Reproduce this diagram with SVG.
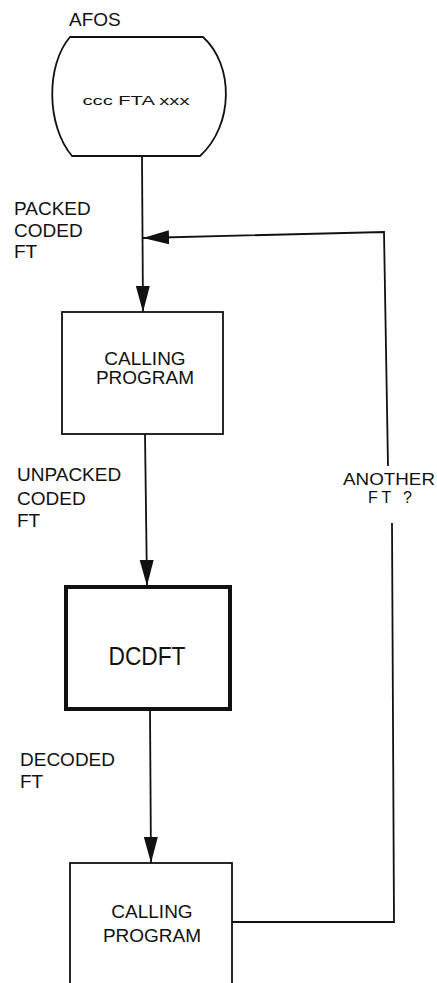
<svg xmlns="http://www.w3.org/2000/svg" width="437" height="983" viewBox="0 0 437 983">
<style>
.t{font-family:"Liberation Sans",Arial,sans-serif;fill:#111;font-size:19px}
.c{text-anchor:middle}
.box{fill:#fff;stroke:#111;stroke-width:1.8}
.thick{fill:#fff;stroke:#111;stroke-width:4}
.ln{fill:none;stroke:#111;stroke-width:1.8}
</style>
<defs>
<marker id="ah" markerUnits="userSpaceOnUse" markerWidth="28" markerHeight="16" refX="26" refY="7" orient="auto">
<path d="M0,0 L26,7 L0,14 Z" fill="#111"/>
</marker>
</defs>
<rect width="437" height="983" fill="#fff"/>
<g id="connectors">
<line class="ln" x1="142" y1="156" x2="143" y2="312" marker-end="url(#ah)"/>
<line class="ln" x1="145" y1="434" x2="147" y2="586" marker-end="url(#ah)"/>
<line class="ln" x1="150" y1="710" x2="151" y2="863" marker-end="url(#ah)"/>
<polyline class="ln" points="232,922 394,922 392,523"/>
<polyline class="ln" points="388,466 384,232 143,238" marker-end="url(#ah)"/>
<text class="t" x="14" y="215">PACKED</text>
<text class="t" x="14" y="237">CODED</text>
<text class="t" x="14" y="258">FT</text>
<text class="t" x="17" y="481">UNPACKED</text>
<text class="t" x="17" y="505">CODED</text>
<text class="t" x="17" y="527">FT</text>
<text class="t" x="20" y="766">DECODED</text>
<text class="t" x="20" y="788">FT</text>
<text class="t c" x="389" y="485" style="font-size:16px" textLength="92" lengthAdjust="spacingAndGlyphs">ANOTHER</text>
<text class="t c" x="390" y="503" style="font-size:16px" textLength="44" lengthAdjust="spacing">FT ?</text>
</g>
<g id="afos">
<text class="t" x="69" y="26">AFOS</text>
<path class="box" d="M70,37 L203,37 C234,65 234,125 200,156 L72,156 C46,125 46,65 70,37 Z"/>
<text class="t c" x="136" y="105" style="font-size:12px" textLength="107" lengthAdjust="spacingAndGlyphs">ccc FTA xxx</text>
</g>
<g id="calling1">
<rect class="box" x="62" y="312" width="161" height="122"/>
<text class="t c" x="145" y="365">CALLING</text>
<text class="t c" x="145" y="384">PROGRAM</text>
</g>
<g id="dcdft">
<rect class="thick" x="66" y="587" width="164" height="122"/>
<text class="t c" x="147" y="665" style="font-size:26px" textLength="77" lengthAdjust="spacingAndGlyphs">DCDFT</text>
</g>
<g id="calling2">
<rect class="box" x="70" y="863" width="162" height="140"/>
<text class="t c" x="152" y="918">CALLING</text>
<text class="t c" x="152" y="942">PROGRAM</text>
</g>
</svg>
